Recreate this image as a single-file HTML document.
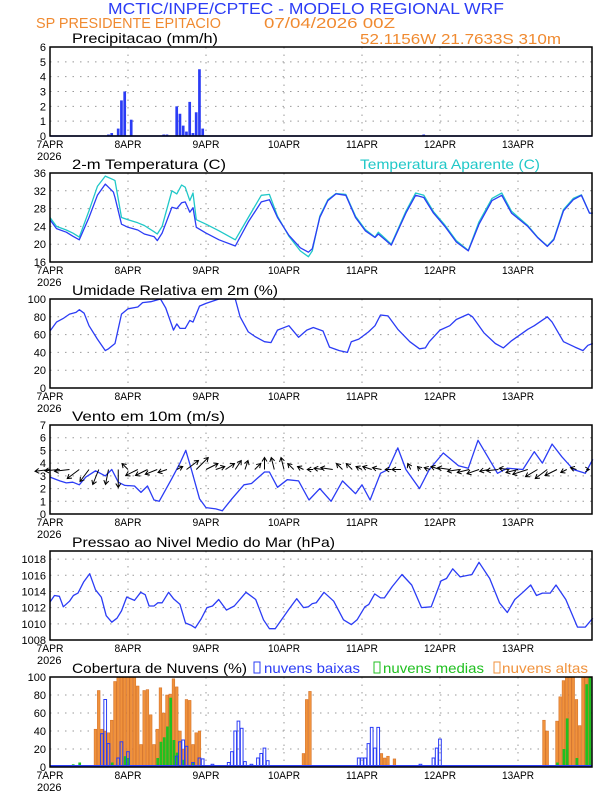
<!DOCTYPE html>
<html><head><meta charset="utf-8">
<style>
html,body{margin:0;padding:0;background:#fff;}
svg{display:block;font-family:"Liberation Sans",sans-serif;}
</style></head>
<body>
<svg id="chart" width="612" height="792" viewBox="0 0 612 792">
<text x="108" y="14" font-size="16" fill="#2b3cf5" textLength="396" lengthAdjust="spacingAndGlyphs">MCTIC/INPE/CPTEC - MODELO REGIONAL WRF</text>
<text x="36" y="28" font-size="15" fill="#f08a30" textLength="185" lengthAdjust="spacingAndGlyphs">SP PRESIDENTE EPITACIO</text>
<text x="264" y="28" font-size="15" fill="#f08a30" textLength="131" lengthAdjust="spacingAndGlyphs">07/04/2026 00Z</text>
<text x="360" y="44" font-size="15" fill="#f08a30" textLength="201" lengthAdjust="spacingAndGlyphs">52.1156W 21.7633S 310m</text>
<g id="plots"></g>
</svg>
<script>
// ---- data ----
const precipHours=[18,19,21,22,23,25,35,36,39,40,41,42,43,44,45,46,47,115];
const precipVals=[0.1,0.2,0.5,2.4,3.0,1.1,0.1,0.1,2.0,1.5,0.7,0.3,2.3,0.2,1.6,4.5,0.5,0.1];

const tempHours=[0,2,5,7,9,12,14.6,17,19.5,20,22,24,27,29,32,33,34.5,37.5,39,40.5,41.6,43,44,45,48,52,57,61,65,67.5,70,73.5,77,79.5,80.7,83,85.5,88,91,94,97,100,101,105,109.5,112.5,115,118,121.5,125,128.7,132,136,139,142,147,150,153,155,158,161,163.5,166,167];
const tempVals=[25.5,23.5,22.7,21.8,21.0,26,31,33.5,31.7,30.5,24.5,23.8,23.2,22.3,21.7,20.8,22.5,28.3,28.0,29.3,29.5,27.2,28.2,23.8,22.5,21,19.6,25,29.5,30,26,22,19.2,18.2,19,26,29.8,31.3,31,26,23,21.5,22.3,19.8,27,31,30.5,27,24,20.5,18.5,24.5,29.8,31,27,24,21.5,19.5,21,27.5,30,31,27,27];
const appVals=[26,24,23.2,22.5,21.6,27.5,33,35.3,34.5,34.3,26,25.5,24.8,24.2,22.8,22.3,24,32,31.3,33.3,32.8,29.8,31.5,25.5,24.5,23,21,26,31,31.2,26.3,21.8,18.5,17.2,18.5,26.3,30,31.4,31.2,26.3,23.3,21.6,22.7,20,27.4,31.5,31,27.3,24.3,20.8,18.6,25,30.3,31.5,27.4,24.2,21.6,19.6,21.2,27.8,30.3,31.1,27,27];

const rhHours=[0,2,4,6,8,9,10.5,12,14.6,17,18,20,22,24,27,28.5,31,34,35.6,38,39,40,41.6,43,44,46,48,52,57,58.5,61,63,66,68,70,73.5,76.5,79,81,84,86,89,91.5,92.7,95,98,100,101.7,104,107,110.7,113.7,115.5,116.7,120,123,125,128.7,130,133.5,137,139.5,142,145.5,147,149,153,154.5,158,161.5,164,165.5,167];
const rhVals=[64,74,78,83,85,88,84,70,55,42,44,50,83,89,91,96,97,100,90,65,72,67,67,76,74,92,95,100,100,80,63,58,52,51,65,70,57,65,68,64,46,42,40,52,55,63,70,82,81,66,52,44,45,52,65,70,77,83,80,62,50,45,53,62,66,70,80,74,52,46,42,48,50];

const windHours=[0,3,5,7,9,11,14,17,19,21,23,26,28,30,32,33.6,37.5,40,41.8,43.5,46,48,51,53,56,59.7,62,66,67.5,70,73,76.5,79.7,83,86.5,90,94,96,98.5,101.7,104,107,109.5,113.7,116.7,121,125.7,128.7,131.7,134.7,137.7,140.7,145.5,149,151.5,154.5,157.5,161,164.7,167];
const windVals=[2.9,2.6,2.45,2.5,2.3,2.9,3.4,3.0,3.5,2.5,2.25,2.2,1.7,2.2,1.1,1.0,2.8,4.0,5.0,3.5,1.2,0.5,0.4,0.25,1.2,2.3,2.4,3.3,3.3,2.1,2.7,2.6,1.1,2.0,1.0,2.6,1.6,2.3,1.1,3.2,3.5,5.2,3.5,2.0,3.5,4.8,3.8,3.6,5.8,4.5,3.2,3.6,3.5,4.9,4.0,5.5,4.5,3.5,3.2,4.3];
const arrowHours=[0,3,6,9,12,15,18,21,24,27,30,33,36,39,42,45,48,51,54,57,60,63,66,69,72,75,78,81,84,87,90,93,96,99,102,105,108,111,114,117,120,123,126,129,132,135,138,141,144,147,150,153,156,159,162,165];
const windU=[-2.5,-2.5,-2.5,-2,-1.5,-1,-0.5,0,-1,-2,-2,-2,-1.5,1,2,2,2,1.5,1.5,1,0.5,1,0,-0.5,-0.5,-1,-1,-1,-1.5,-2,-1,-1,-1,-1.5,-1.5,-1,-1.5,-0.5,-0.5,-1,-1.5,-2,-2,-2,-2,-1.5,-2,-1.5,-2,-2.5,-2,-2,-2,-1,-1,0.5];
const windV=[-0.3,-0.2,-0.3,-1.5,-2,-2.5,-2.5,-3,1,-1,-1,-0.8,-0.5,0.5,1.5,2,1,0.5,1,1.5,1.5,1,2,2,2,1,0.5,0,0.2,0.3,1,1,0.5,0.5,0.3,0,0,1,0.5,0.3,0.5,0.3,-0.3,-0.5,-0.7,-0.3,-0.2,0.2,-0.5,-0.8,-1.2,-1.5,-1,-0.5,0.3,0];

const presHours=[0,1.4,2.9,4.1,6,7.2,8.6,10.4,12.2,14,15.8,17.3,19,20.6,22,23.6,26,27.9,29.3,30.5,32,33.2,34.5,36.5,38,40,41.7,43.5,44.7,46.5,48.3,50,51.9,54.3,56.7,60.3,63.3,65.7,67.5,69.3,73.5,75.9,78,79.5,80.7,81.9,84.3,87.3,90.3,92.7,94.5,96.9,98.1,99.9,101.7,102.9,105.3,108.3,111.3,114.3,117.3,120.3,122,123.9,126.2,129.8,132,135.3,138.3,140.7,143,145.5,147.9,149.7,151.5,153.9,155.7,158.7,162.3,164.7,167];
const presVals=[1012.7,1013.5,1013.4,1012.1,1012.8,1013.5,1013.8,1015.2,1016.2,1014.2,1013.3,1011,1010.2,1010.7,1011.6,1013.3,1012.9,1013.9,1013.6,1012.2,1012.2,1012.6,1012.6,1013.9,1013.1,1012.4,1010.1,1009.8,1009.5,1010.6,1012,1012.2,1013,1011.7,1012.2,1013.9,1013,1010.5,1009.4,1009.4,1011.8,1013.1,1012,1012.1,1012.5,1012.6,1013.9,1012.8,1010.5,1009.9,1010.5,1012.1,1012.4,1013.7,1013.2,1013.2,1014.6,1016.1,1014.8,1012,1012.1,1015.3,1015.6,1016.8,1015.8,1016.1,1017.6,1015.6,1012.6,1011.4,1013,1013.9,1014.8,1013.5,1013.8,1013.8,1014.8,1013,1009.6,1009.6,1010.7];

const highHours=[14,15,16,17,18,19,20,21,22,23,24,25,26,27,28,29,30,31,32,33,34,35,36,37,38,39,40,41,42,43,44,45,46,78,79,80,102,103,104,106,152,153,156,157,158,159,160,161,162,163,164,165,166];
const highVals=[42,85,42,40,38,52,95,100,100,100,100,100,100,90,25,85,86,58,25,42,88,60,80,81,98,89,40,20,75,74,25,38,40,15,75,84,15,10,12,9,52,40,51,78,96,100,100,100,75,46,100,100,100];
const midHours=[7,9,19,23,24,33,34,35,36,37,38,39,41,44,156,158,159,162,165,166];
const midVals=[3,5,5,12,10,10,28,33,45,77,30,16,8,5,5,20,54,10,92,100];
const lowHours=[16,17,18,21,22,24,39,40,41,42,44,46,47,50,55,56,57,58,59,60,62,64,65,66,67,95,96,97,98,99,100,101,114,118,119,120];
const lowVals=[37,75,26,10,28,17,12,28,30,23,5,10,9,3,5,17,40,51,43,6,3,10,15,21,7,10,10,10,26,44,21,44,3,10,21,31];

// ---- drawing ----
const NS="http://www.w3.org/2000/svg";
const X0=50, PXH=3.25, X1=592;
const root=document.getElementById('plots');
function xs(h){return X0+h*PXH;}
function mk(tag,attrs,parent){const e=document.createElementNS(NS,tag);for(const k in attrs)e.setAttribute(k,attrs[k]);(parent||root).appendChild(e);return e;}
const dayLabels=["7APR","8APR","9APR","10APR","11APR","12APR","13APR"];

function panel(name,top,bot,ymin,ymax,ticks,title,titleW){
  const g=mk('g',{});
  
  
  const ys=v=>bot-(v-ymin)/(ymax-ymin)*(bot-top);
  ticks.forEach(t=>{
    const y=ys(t);
    const gl=mk('line',{x1:X0,x2:X1,y1:y,y2:y,stroke:'#999','stroke-width':1,'stroke-dasharray':'1.5,6'},g);
    
    
    const tl=mk('text',{x:X0-4,y:y+4,'font-size':11,'text-anchor':'end',fill:'#000'},g);
    tl.textContent=String(t);
    
    
  });
  dayLabels.forEach((d,i)=>{
    const x=xs(i*24);
    if(i>0){const vl=mk('line',{x1:x,x2:x,y1:top,y2:bot,stroke:'#999','stroke-width':1,'stroke-dasharray':'1.5,6'},g);
    
    }
    const xl=mk('text',{x:x,y:bot+12,'font-size':11,'text-anchor':'middle',fill:'#000',textLength:d.length>4?32:27,lengthAdjust:'spacingAndGlyphs'},g);
    xl.textContent=d;
    
    
  });
  const yr=mk('text',{x:X0-13,y:bot+24,'font-size':11,fill:'#000'},g);
  yr.textContent="2026";
  
  
  const tt=mk('text',{x:72,y:top-4,'font-size':14,fill:'#000',textLength:titleW,lengthAdjust:'spacingAndGlyphs'},g);
  tt.textContent=title;
  
  
  const content=mk('g',{},g);
  const fr=mk('rect',{x:X0,y:top,width:X1-X0,height:bot-top,fill:'none',stroke:'#000','stroke-width':1.5},g);
  
  
  return {g:content,ys:ys,top:top,bot:bot};
}
function line(p,hours,vals,color,name){
  const pts=hours.map((h,i)=>xs(h).toFixed(1)+','+p.ys(vals[i]).toFixed(1)).join(' ');
  const l=mk('polyline',{points:pts,fill:'none',stroke:color,'stroke-width':1.3,'stroke-linejoin':'round'},p.g);
  
  
}
function bars(p,hours,vals,style,name,off){
  hours.forEach((h,i)=>{
    const y=p.ys(vals[i]);
    const r=mk('rect',Object.assign({x:xs(h)-1.4+(off||0),y:y,width:2.7,height:Math.max(0,p.bot-y)},style),p.g);
    
    
  });
}

// Panel 1 precipitation
const p1=panel('precip-panel',47,136,0,6,[0,1,2,3,4,5,6],'Precipitacao (mm/h)',146);
bars(p1,precipHours,precipVals,{fill:'#2b3cf5'},'precip-bar');
const b1=mk('line',{x1:X0,x2:X1,y1:136,y2:136,stroke:'#2b3cf5','stroke-width':1.5},p1.g);

// Panel 2 temperature
const p2=panel('temperature-panel',173,262,16,36,[16,20,24,28,32,36],'2-m Temperatura (C)',154);
line(p2,tempHours,appVals,'#20c8c8','apparent-temp-line');
line(p2,tempHours,tempVals,'#2b3cf5','temperature-line');
const lg=mk('text',{x:360,y:169,'font-size':14,fill:'#20c8c8',textLength:180,lengthAdjust:'spacingAndGlyphs'});
lg.textContent='Temperatura Aparente (C)';



// Panel 3 RH
const p3=panel('humidity-panel',299,388,0,100,[0,20,40,60,80,100],'Umidade Relativa em 2m (%)',206);
line(p3,rhHours,rhVals,'#2b3cf5','humidity-line');

// Panel 4 wind
const p4=panel('wind-panel',425,514,0,7,[0,1,2,3,4,5,6,7],'Vento em 10m (m/s)',153);
line(p4,windHours,windVals,'#2b3cf5','wind-speed-line');
const base=p4.ys(3.5);
arrowHours.forEach((h,i)=>{
  const x=xs(h), dx=windU[i]*6, dy=-windV[i]*6;
  const ex=x+dx, ey=base+dy, len=Math.hypot(dx,dy)||1, ux=dx/len, uy=dy/len;
  const a=mk('path',{d:`M${x},${base}L${ex},${ey}M${ex-4*ux+2.5*uy},${ey-4*uy-2.5*ux}L${ex},${ey}L${ex-4*ux-2.5*uy},${ey-4*uy+2.5*ux}`,stroke:'#000','stroke-width':1,fill:'none'},p4.g);
  
  
});

// Panel 5 pressure
const p5=panel('pressure-panel',551,640,1008,1019,[1008,1010,1012,1014,1016,1018],'Pressao ao Nivel Medio do Mar (hPa)',263);
line(p5,presHours,presVals,'#2b3cf5','pressure-line');

// Panel 6 clouds
const p6=panel('cloud-panel',677,767,0,100,[0,20,40,60,80,100],'Cobertura de Nuvens (%)',175);
bars(p6,highHours,highVals,{fill:'#f0923c',stroke:'#d06a20','stroke-width':0.5},'high-cloud-bar');
bars(p6,midHours,midVals,{fill:'#20c020'},'mid-cloud-bar',0.5);
bars(p6,lowHours,lowVals,{fill:'none',stroke:'#2b3cf5','stroke-width':1},'low-cloud-bar');
mk('line',{x1:X0,x2:X1,y1:766,y2:766,stroke:'#2b3cf5','stroke-width':2},p6.g);
const leg=[['#2b3cf5','nuvens baixas',254,264,96],['#20c020','nuvens medias',374,383,101],['#f0923c','nuvens altas',494,502,86]];
leg.forEach(l=>{
  const r=mk('rect',{x:l[2],y:662,width:6,height:11,fill:'none',stroke:l[0],'stroke-width':1});
  
  
  const t=mk('text',{x:l[3],y:673,'font-size':14,fill:l[0],textLength:l[4],lengthAdjust:'spacingAndGlyphs'});
  t.textContent=l[1];
  
  
});
</script>
</body></html>
